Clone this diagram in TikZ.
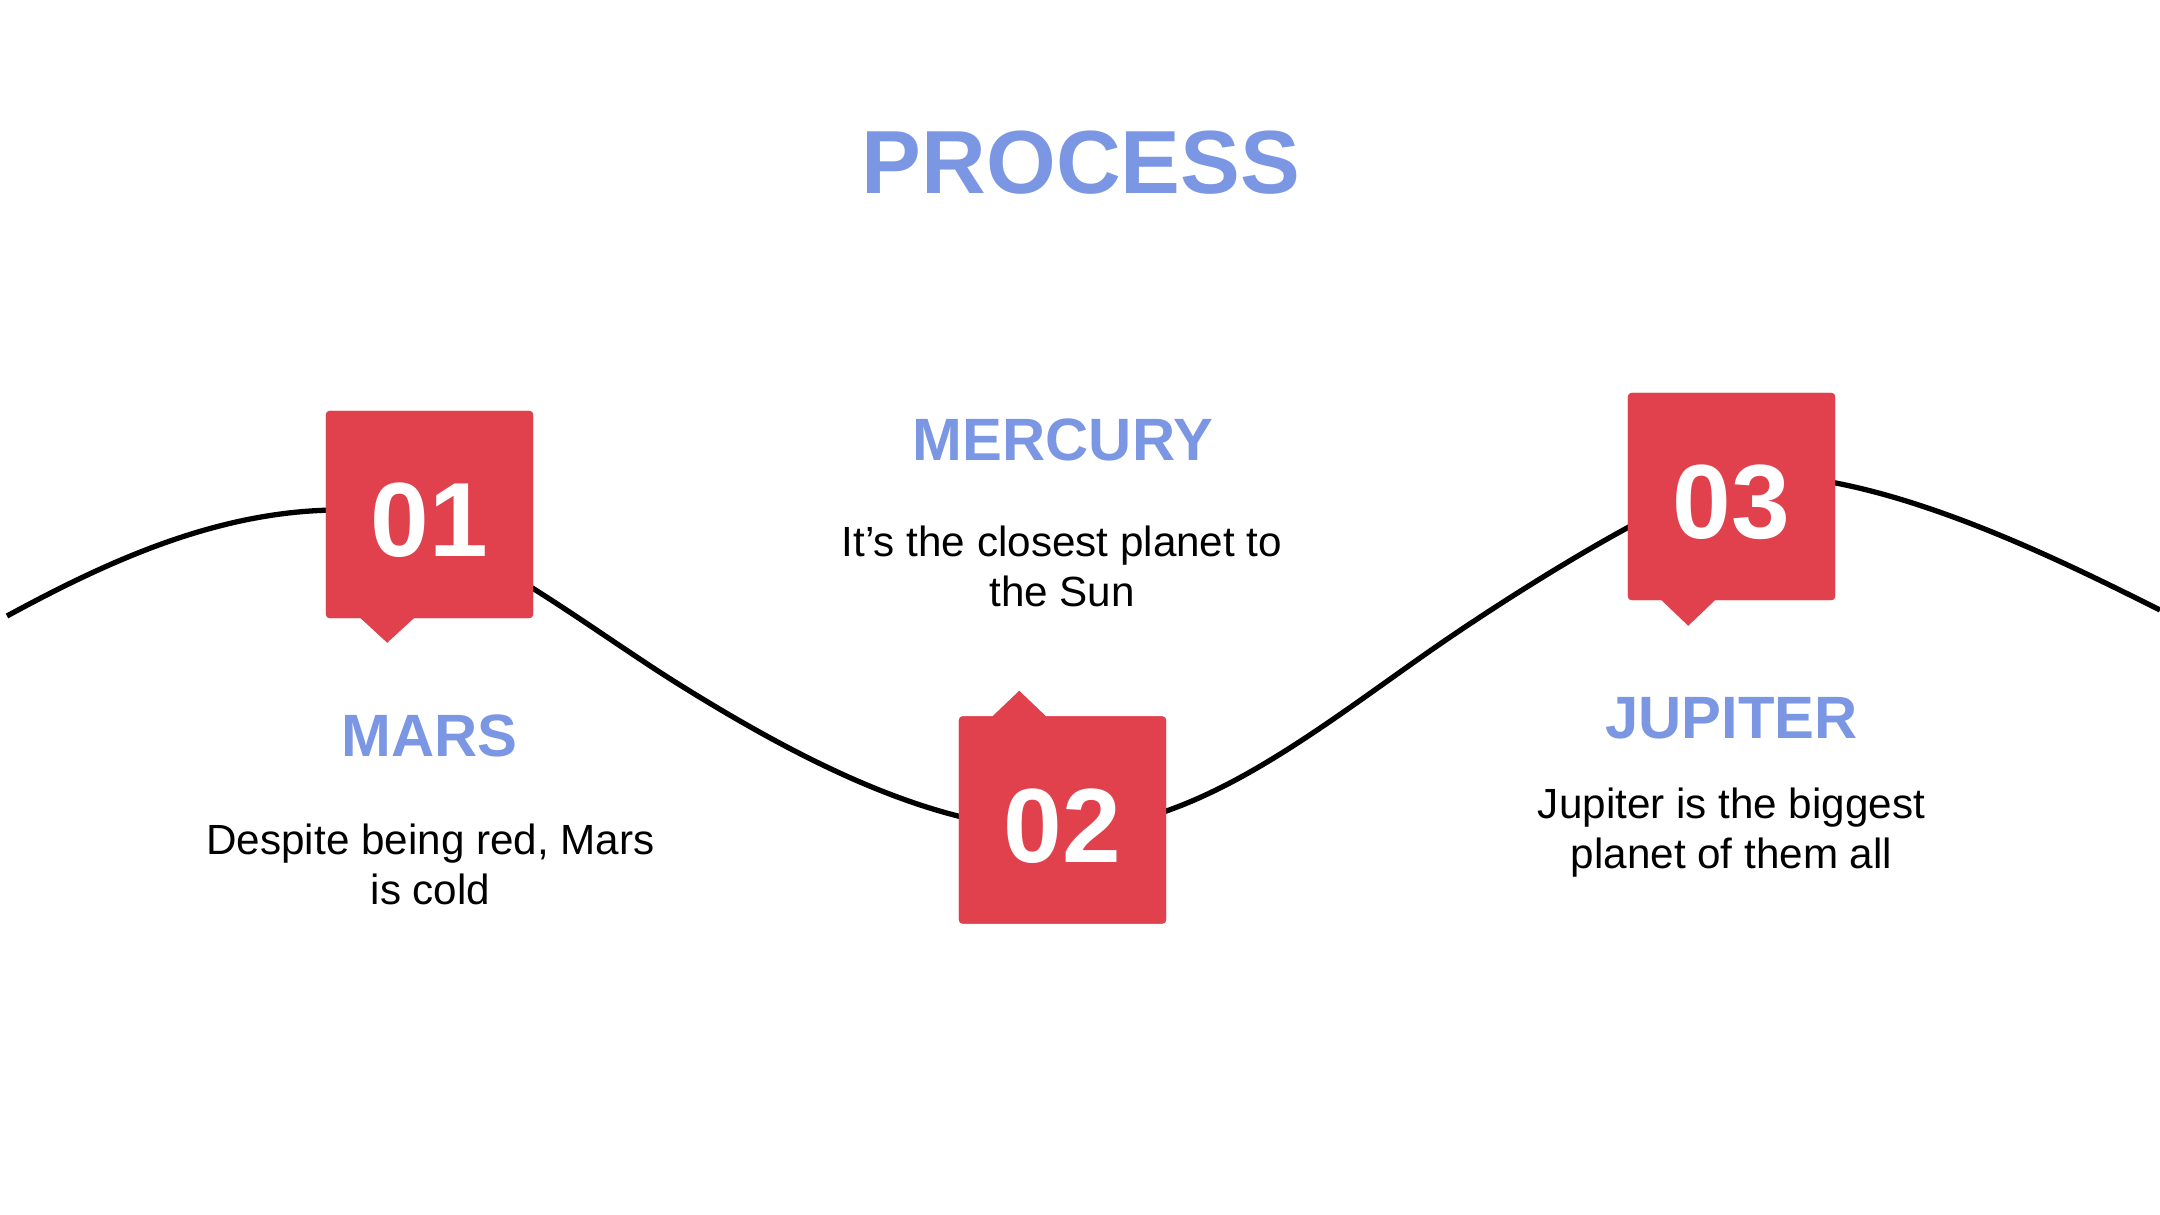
\documentclass[tikz,border=0pt]{standalone}
\usepackage{fontspec}
\setmainfont{Liberation Sans}
\usepackage{tkz-euclide}
\usetikzlibrary{calc}
\definecolor{BoxClr}{HTML}{E0414C}
\definecolor{HeadClr}{HTML}{7B97E3}

\tikzset{
  numbox/.style={fill=BoxClr,rounded corners=1pt,minimum width=2.07cm,minimum height=2.07cm,
    inner sep=0pt,text=white,font=\fontsize{30}{30}\selectfont\bfseries,text height=24pt,text depth=0pt},
  tip/.style={fill=BoxClr},
  head/.style={text=HeadClr,font=\fontsize{17}{17}\selectfont\bfseries,anchor=base,inner sep=0pt},
  bodytext/.style={font=\fontsize{12}{14}\selectfont,align=center,anchor=base,inner sep=0pt},
  wave/.style={line width=1.5pt,black},
}

\begin{document}
\begin{tikzpicture}[x=0.01cm,y=-0.01cm]
\useasboundingbox (0,0) rectangle (2160,1215);

\tkzDefPoints{7/616/W0,340/510/W1,680/685/W2,1062/830/W3,1427/653/W4,1760/475/W5,2160/610/W6}

\draw[wave] (W0) .. controls (110,560) and (220,510) .. (W1)
  .. controls (440,510) and (580,623) .. (W2)
  .. controls (810,766) and (940,830) .. (W3)
  .. controls (1192,830) and (1307,737) .. (W4)
  .. controls (1517,590) and (1700,475) .. (W5)
  .. controls (1890,475) and (2060,560) .. (W6);

\node[text=HeadClr,font=\fontsize{25.5}{25.5}\selectfont\bfseries,anchor=base,inner sep=0pt]
  (title) at (1081,193) {PROCESS};

% boxes
\node[numbox] (b1) at (429.5,514.5) {};
\node[numbox] (b2) at (1062.5,820) {};
\node[numbox] (b3) at (1731.5,496.5) {};

\fill[tip] ($(b1.south west)+(31.6,-4)$) -- ($(b1.south west)+(62,24)$) -- ($(b1.south west)+(92.4,-4)$) -- cycle;
\fill[tip] ($(b2.north west)+(30.6,4)$) -- ($(b2.north west)+(61,-25)$) -- ($(b2.north west)+(91.4,4)$) -- cycle;
\fill[tip] ($(b3.south west)+(30.6,-4)$) -- ($(b3.south west)+(61,25)$) -- ($(b3.south west)+(91.4,-4)$) -- cycle;

\node[numbox] at (b1) {01};
\node[numbox] at (b2) {02};
\node[numbox] at (b3) {03};

% texts
\node[head] (mars) at (429.5,756) {MARS};
\node[bodytext] (marsT) at (430.5,904) {Despite being red, Mars\\is cold};
\node[head] (mercury) at (1063,460) {MERCURY};
\node[bodytext] (mercuryT) at (1062,606) {It’s the closest planet to\\the Sun};
\node[head] (jupiter) at (1731.5,738) {JUPITER};
\node[bodytext] (jupiterT) at (1731.5,868) {Jupiter is the biggest\\planet of them all};
\end{tikzpicture}
\end{document}
